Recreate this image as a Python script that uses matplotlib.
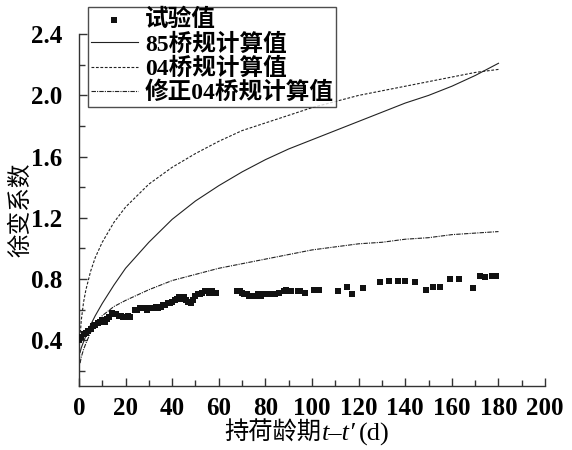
import numpy as np
import matplotlib.pyplot as plt
from matplotlib.ticker import MultipleLocator

plt.rcParams['font.family'] = ['Liberation Serif', 'Noto Sans CJK SC']

# test values (t in days, creep coefficient)
test_t = [0, 1, 2, 3, 4, 5, 6, 7, 8, 9, 10, 11, 12, 13, 14, 15, 16, 17, 18, 19,
          20, 21, 22, 24, 25, 26, 27, 28, 29, 30, 31, 32, 33, 34, 35, 36, 37, 38,
          39, 40, 41, 42, 43, 44, 45, 46, 47, 48, 49, 50, 51, 52, 53, 54, 55, 56,
          57, 58, 59,
          68, 69, 70, 71, 72, 73, 75, 76, 77, 78, 79, 80, 82, 83, 84, 86, 88, 89,
          90, 91, 94, 95, 97, 101, 103, 111, 115, 117, 122, 129, 133, 137, 140,
          144, 149, 152, 155, 159, 163, 169, 172, 174, 177, 179]
test_v = [0.40, 0.42, 0.44, 0.45, 0.46, 0.47, 0.49, 0.50, 0.51, 0.52, 0.53, 0.52,
          0.54, 0.55, 0.58, 0.57, 0.57, 0.56, 0.56, 0.55, 0.55, 0.56, 0.55, 0.60,
          0.60, 0.61, 0.61, 0.61, 0.60, 0.61, 0.61, 0.61, 0.62, 0.61, 0.62, 0.63,
          0.63, 0.64, 0.64, 0.65, 0.66, 0.67, 0.68, 0.67, 0.68, 0.66, 0.65, 0.64,
          0.66, 0.69, 0.70, 0.70, 0.71, 0.72, 0.72, 0.71, 0.72, 0.71, 0.71,
          0.72, 0.72, 0.71, 0.70, 0.70, 0.69, 0.69, 0.69, 0.70, 0.69, 0.70, 0.70,
          0.70, 0.70, 0.70, 0.71, 0.72, 0.73, 0.72, 0.72, 0.72, 0.72, 0.71, 0.73,
          0.73, 0.72, 0.75, 0.70, 0.74, 0.78, 0.79, 0.79, 0.79, 0.78, 0.73, 0.75,
          0.75, 0.80, 0.80, 0.74, 0.82, 0.81, 0.82, 0.82]

# calculated curves, read at these ages
calc_t = [0.5, 1, 2, 3, 5, 7, 10, 15, 20, 30, 40, 50, 60, 70, 80, 90, 100,
          110, 120, 130, 140, 150, 160, 170, 180]
code85 = [0.32, 0.35, 0.39, 0.43, 0.50, 0.56, 0.64, 0.76, 0.87, 1.04, 1.19,
          1.31, 1.41, 1.50, 1.58, 1.65, 1.71, 1.77, 1.83, 1.89, 1.95, 2.00,
          2.06, 2.13, 2.21]
code04 = [0.42, 0.53, 0.65, 0.73, 0.85, 0.94, 1.04, 1.17, 1.27, 1.42, 1.53,
          1.62, 1.70, 1.77, 1.82, 1.87, 1.92, 1.96, 2.00, 2.03, 2.06, 2.09,
          2.12, 2.15, 2.17]
code04_mod = [0.25, 0.29, 0.34, 0.38, 0.45, 0.50, 0.56, 0.62, 0.66, 0.73, 0.79,
              0.83, 0.87, 0.90, 0.93, 0.96, 0.99, 1.01, 1.03, 1.04, 1.06, 1.07,
              1.09, 1.10, 1.11]

fig = plt.figure(figsize=(5.72, 4.5), dpi=100)
ax = fig.add_axes([0.138, 0.142, 0.815, 0.782])

ax.scatter(test_t, test_v, marker='s', s=24, color='#111111', lw=0,
           label='试验值', zorder=3)
ax.plot(calc_t, code85, '-', color='#222222', lw=0.8, label='85桥规计算值')
ax.plot(calc_t, code04, color='#222222', lw=0.8, ls=(0, (2.5, 1.5)),
        label='04桥规计算值')
ax.plot(calc_t, code04_mod, color='#222222', lw=0.8, ls=(0, (4, 1, 1, 1)),
        label='修正04桥规计算值')

ax.set_xlim(0, 200)
ax.set_ylim(0.1, 2.4)
ax.xaxis.set_major_locator(MultipleLocator(20))
ax.xaxis.set_minor_locator(MultipleLocator(10))
ax.yaxis.set_minor_locator(MultipleLocator(0.2))
ax.set_yticks([0.4, 0.8, 1.2, 1.6, 2.0, 2.4])
ax.set_yticklabels(['0.4', '0.8', '1.2', '1.6', '2.0', '2.4'])

for s in ['top', 'right']:
    ax.spines[s].set_visible(False)
for s in ['left', 'bottom']:
    ax.spines[s].set_color('#333333')
    ax.spines[s].set_linewidth(1.0)
ax.tick_params(which='both', direction='in', color='#333333', width=1.0)
ax.tick_params(which='major', length=6, labelsize=18)
ax.tick_params(axis='y', which='major', pad=12)
ax.tick_params(axis='x', which='major', pad=8)
ax.tick_params(which='minor', length=4)
for lab in ax.get_xticklabels() + ax.get_yticklabels():
    lab.set_fontweight('bold')

ax.set_ylabel('徐变系数', fontsize=17, labelpad=-1)

# x label: CJK part plus italic symbol part
xl_y = 0.022
fig.text(0.562, xl_y, '持荷龄期', fontsize=17.5, ha='right', va='baseline')
fig.text(0.562, xl_y, "t\u2013t\u2032", fontsize=19, ha='left', va='baseline',
         style='italic', family='Liberation Serif')
fig.text(0.627, xl_y, '(d)', fontsize=19, ha='left', va='baseline',
         family='Liberation Serif')

leg = ax.legend(loc='upper left', bbox_to_anchor=(0.02, 1.078), fontsize=17,
                frameon=True, fancybox=False, edgecolor='#222222',
                handlelength=2.0, handletextpad=0.3, labelspacing=0.08,
                borderpad=0.1, borderaxespad=0, markerscale=0.85)
leg.get_frame().set_linewidth(1.0)
for t in leg.get_texts():
    t.set_fontweight('bold')

fig.savefig('out.png', dpi=100)
